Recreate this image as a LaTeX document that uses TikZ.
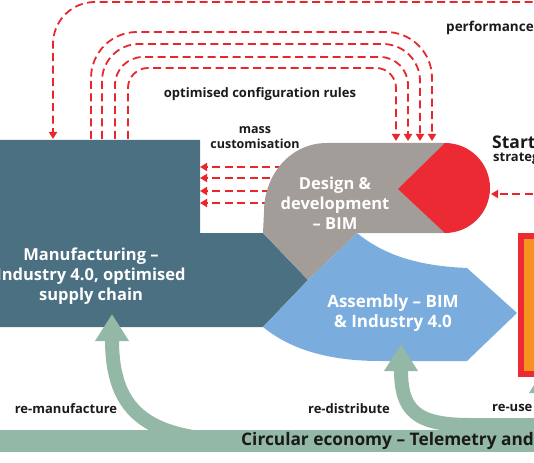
\documentclass[tikz,border=0pt]{standalone}
\usepackage{fontspec}
\setmainfont{Open Sans}
\usetikzlibrary{positioning, arrows.meta}

\definecolor{mfgteal}{HTML}{4B7082}
\definecolor{desgray}{HTML}{A39D99}
\definecolor{startred}{HTML}{EC2A34}
\definecolor{asmblue}{HTML}{7AADDE}
\definecolor{circsage}{HTML}{93B8A6}
\definecolor{useorange}{HTML}{F6921E}
\definecolor{dashred}{HTML}{E8262C}
\definecolor{inkblack}{HTML}{1A1A1A}

\tikzset{
	flow/.style={draw=dashred, line width=1.8pt, dash pattern=on 8pt off 4.5pt, -{Triangle[width=8pt,length=7pt]}},
	circarrow/.style={draw=circsage, line width=14pt, -{Triangle[width=32pt,length=27pt]}},
	stagetext/.style={text=white, font=\bfseries\fontsize{16.5}{20}\selectfont, align=center, inner sep=0pt},
	flowtext/.style={text=inkblack, font=\bfseries\fontsize{13}{15}\selectfont, align=center, inner sep=0pt}
}

\begin{document}
\begin{tikzpicture}[x=1pt, y=-1pt]
			\useasboundingbox (0,0) rectangle (534,462);
			\fill[mfgteal] (0,140) -- (200,140) -- (200,233) -- (263,233) -- (308,280) -- (263,327) -- (0,327) -- cycle;
			\foreach \y [count=\i] in {167,178,191,203} {
				\coordinate (mc\i) at (295,\y);
				\coordinate (mt\i) at (200,\y);
				\draw[flow] (mc\i) -- (mt\i);
			}
			\fill[desgray] (445,143) -- (327,143) .. controls (290,143) and (264,175) .. (264,212) -- (263,233) -- (308,280) -- (357,233) -- (445,233) -- cycle;
			\fill[asmblue] (308,280) -- (357,233) .. controls (385,256) and (420,266) .. (467,268) -- (517,313) -- (467,361) -- (380,361) .. controls (320,361) and (285,345) .. (263,327) -- cycle;
			\fill[startred] (445,143) -- (398,189) -- (445,233) .. controls (469.9,233) and (490,212.9) .. (490,188) .. controls (490,163.1) and (469.9,143) .. (445,143) -- cycle;
			\filldraw[fill=useorange, draw=startred, line width=6pt] (521,236) rectangle (565,374);

			\foreach \xl/\yt/\xr/\r [count=\i] in {91/32/432/46, 102/44/420/37, 115/57/408/28, 128/68/396/20} {
				\coordinate (cs\i) at (\xl,139);
				\coordinate (ce\i) at (\xr,141);
				\draw[flow, rounded corners=\r pt] (cs\i) -- (\xl,\yt) -- (\xr,\yt) -- (ce\i);
			}
			\coordinate (pf) at (545,2);
			\coordinate (pt) at (53,139);
			\draw[flow, rounded corners=42pt] (pf) -- (53,2) -- (pt);
			\coordinate (ss) at (545,194);
			\coordinate (se) at (491,194);
			\draw[flow] (ss) -- (se);

			\coordinate (bandl) at (0,441);
			\coordinate (bandr) at (545,441);
			\draw[circsage, line width=22pt] (bandl) -- (bandr);
			\coordinate (rmfrom) at (250,441);
			\coordinate (rmto) at (112,314);
			\draw[circarrow] (rmfrom) .. controls (150,441) and (112,415) .. (rmto);
			\coordinate (rdfrom) at (600,425);
			\coordinate (rdto) at (401,344);
			\draw[circarrow] (rdfrom) -- (470,425) .. controls (415,425) and (401,410) .. (rdto);
			\coordinate (rufrom) at (600,425);
			\coordinate (ruto) at (546,366);
			\draw[circarrow] (rufrom) .. controls (560,425) and (546,415) .. (ruto);

			\node[stagetext] (manuf) at (91,276) {Manufacturing –\\Industry 4.0, optimised\\supply chain};
			\node[stagetext] (design) at (335,203) {Design \&\\development\\– BIM};
			\node[stagetext, font=\bfseries\fontsize{17}{20}\selectfont] (assembly) at (393,313) {Assembly – BIM\\\& Industry 4.0};
			\node[flowtext, font=\bfseries\fontsize{12.5}{15}\selectfont] (masscust) at (255,138) {mass\\customisation};
			\node[flowtext] (cfgrules) at (260,94) {optimised configuration rules};
			\node[flowtext, anchor=west, font=\bfseries\fontsize{13.5}{15}\selectfont] (perf) at (446,28) {performance};
			\node[flowtext, anchor=west, font=\bfseries\fontsize{17.5}{19}\selectfont] (start) at (492,142) {Start};
			\node[flowtext, anchor=west] (strat) at (493,159) {strategy};
			\node[flowtext] (reman) at (66,409) {re-manufacture};
			\node[flowtext] (redist) at (349,409) {re-distribute};
			\node[flowtext, anchor=west] (reuse) at (492,408) {re-use};
			\node[flowtext, anchor=west, font=\bfseries\fontsize{17.3}{19}\selectfont] (circ) at (241,441) {Circular economy – Telemetry and};
		\end{tikzpicture}
\end{document}
